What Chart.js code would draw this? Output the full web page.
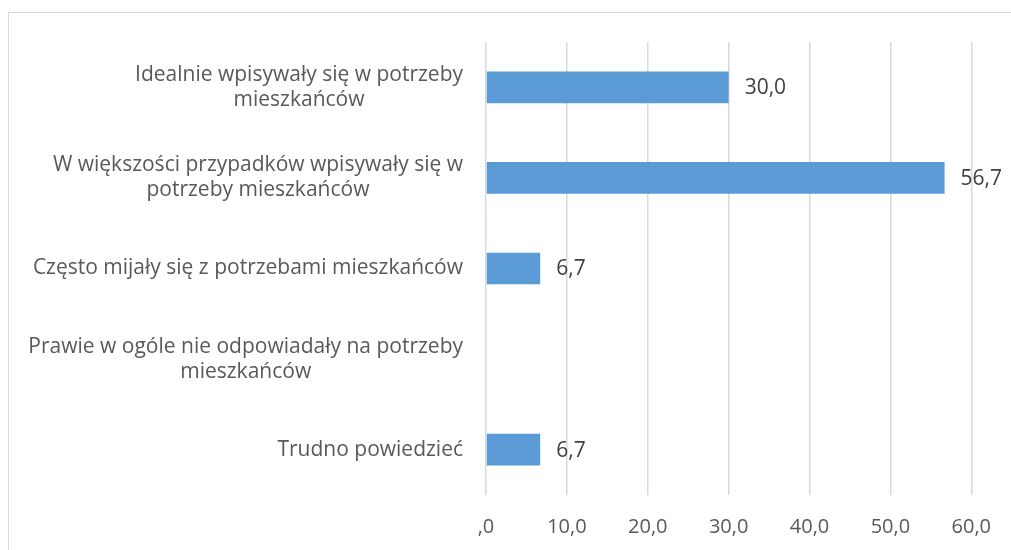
<!DOCTYPE html>
<html>
<head>
<meta charset="utf-8">
<script src="https://cdn.jsdelivr.net/npm/chart.js@4/dist/chart.umd.min.js"></script>
<style>
    html, body { margin: 0; padding: 0; background: #fff; }
    #wrap { position: relative; width: 1011px; height: 550px; overflow: hidden; }
    #frame { position: absolute; left: 8px; top: 12px; width: 1100px; height: 700px; border: 1px solid #d9d9d9; }
    canvas { position: absolute; left: 0; top: 0; }
</style>
</head>
<body>
<div id="wrap">
    <div id="frame"></div>
    <canvas id="chart" width="1011" height="550"></canvas>
</div>
<script>
// Chart data
const categories = [
    ['Idealnie wpisywały się w potrzeby', 'mieszkańców'],
    ['W większości przypadków wpisywały się w', 'potrzeby mieszkańców'],
    ['Często mijały się z potrzebami mieszkańców'],
    ['Prawie w ogóle nie odpowiadały na potrzeby', 'mieszkańców'],
    ['Trudno powiedzieć']
];
const values = [30.0, 56.7, 6.7, null, 6.7];
const xTicks = [0, 10, 20, 30, 40, 50, 60];
const xTickLabels = [',0', '10,0', '20,0', '30,0', '40,0', '50,0', '60,0'];

const FONT = '"Open Sans", sans-serif';

/**
 * Format value with Polish decimal comma
 */
function formatValue(v) {
    return v.toFixed(1).replace('.', ',');
}

// Category labels on the left: block right-aligned, lines centred
const categoryLabels = {
    id: 'categoryLabels',
    afterDraw(chart) {
        const ctx = chart.ctx;
        const yScale = chart.scales.y;
        const right = 463;
        const lh = 25;
        ctx.save();
        ctx.font = '21px ' + FONT;
        ctx.fillStyle = '#595959';
        ctx.textAlign = 'center';
        ctx.textBaseline = 'middle';
        categories.forEach(function(lines, i) {
            const y = yScale.getPixelForValue(i);
            const w = Math.max.apply(null, lines.map(l => ctx.measureText(l).width));
            const cx = right - w / 2;
            lines.forEach(function(line, j) {
                ctx.fillText(line, cx, y + (j - (lines.length - 1) / 2) * lh);
            });
        });
        ctx.restore();
    }
};

// Value labels to the right of each bar
const valueLabels = {
    id: 'valueLabels',
    afterDatasetsDraw(chart) {
        const ctx = chart.ctx;
        const meta = chart.getDatasetMeta(0);
        ctx.save();
        ctx.font = '21px ' + FONT;
        ctx.fillStyle = '#404040';
        ctx.textAlign = 'left';
        ctx.textBaseline = 'middle';
        meta.data.forEach(function(bar, i) {
            if (values[i] === null) return;
            ctx.fillText(formatValue(values[i]), bar.x + 16, bar.y + 1);
        });
        ctx.restore();
    }
};

const ctx = document.getElementById('chart').getContext('2d');
new Chart(ctx, {
    type: 'bar',
    data: {
        labels: categories,
        datasets: [{
            data: values,
            backgroundColor: '#5b9bd5',
            borderWidth: 0,
            barPercentage: 0.35,
            categoryPercentage: 1.0
        }]
    },
    options: {
        indexAxis: 'y',
        responsive: false,
        animation: false,
        layout: { padding: { left: 486, right: 39, top: 42, bottom: 0 } },
        plugins: {
            legend: { display: false },
            tooltip: { enabled: false }
        },
        scales: {
            x: {
                min: 0,
                max: 60,
                afterBuildTicks: function(scale) {
                    scale.ticks = xTicks.map(v => ({ value: v }));
                },
                afterFit: function(scale) { scale.height = 55; },
                grid: { color: '#d9d9d9', lineWidth: 1.5, drawTicks: false },
                border: { display: false },
                ticks: {
                    padding: 20,
                    color: '#595959',
                    font: { family: FONT, size: 20 },
                    maxRotation: 0,
                    callback: function(value, index) { return xTickLabels[index]; }
                }
            },
            y: {
                afterFit: function(scale) { scale.width = 0; },
                grid: { display: false },
                border: { display: false },
                ticks: { display: false }
            }
        }
    },
    plugins: [categoryLabels, valueLabels]
});
</script>
</body>
</html>
